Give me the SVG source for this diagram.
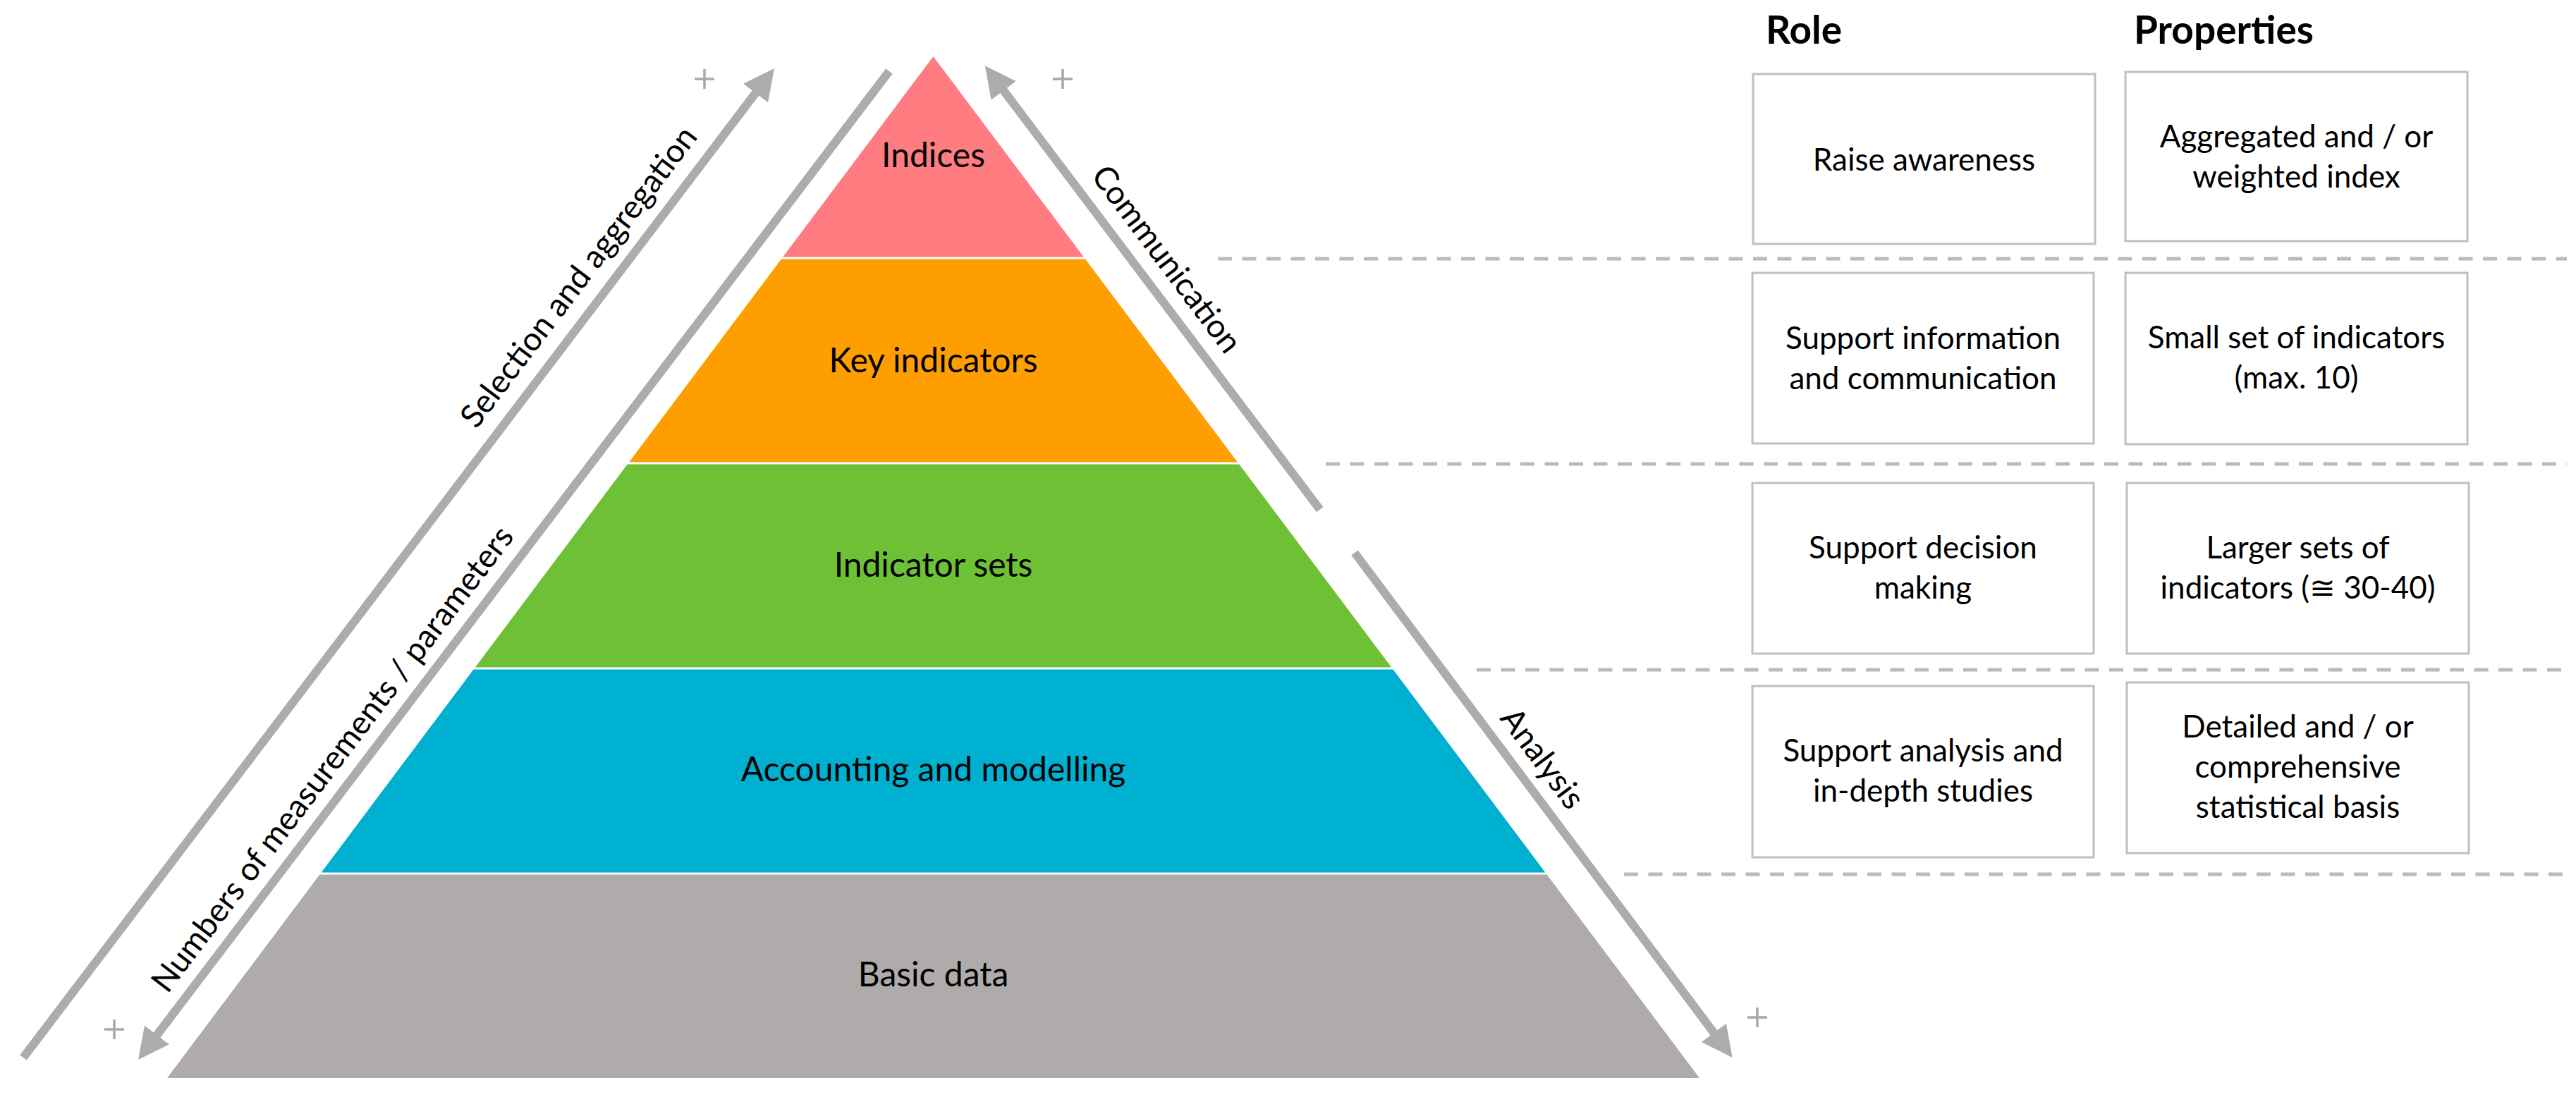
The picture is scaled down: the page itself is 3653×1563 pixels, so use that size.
<svg xmlns="http://www.w3.org/2000/svg" width="3653" height="1563" viewBox="0 0 3653 1563">
  <style>
    .lbl { font-family: Lato, "Liberation Sans", sans-serif; font-size: 48px; fill: #000; text-anchor: middle; }
    .diag { font-family: Lato, "Liberation Sans", sans-serif; font-size: 46px; fill: #000; text-anchor: middle; }
    .box { fill: #fff; stroke: #BFBFBF; stroke-width: 3; }
    .btxt { font-family: Lato, "Liberation Sans", sans-serif; font-size: 44px; fill: #000; text-anchor: middle; }
    .hdr { font-family: Lato, "Liberation Sans", sans-serif; font-size: 55px; font-weight: bold; fill: #000; }
    .arrow { stroke: #AEABAB; stroke-width: 12; fill: none; stroke-linecap: butt; }
    .dash { stroke: #BCB9B9; stroke-width: 5; stroke-dasharray: 20 14.5; fill: none; }
    .plus { stroke: #A9A7A7; stroke-width: 3.5; fill: none; }
  </style>
  <defs>
    <marker id="head" markerUnits="userSpaceOnUse" viewBox="0 0 44 44" markerWidth="44" markerHeight="44" refX="22" refY="22" orient="auto">
      <path d="M0,0 L44,22 L0,44 Z" fill="#AEABAB"/>
    </marker>
  </defs>
  <rect width="3653" height="1563" fill="#fff"/>

  <g id="layer-indices">
    <polygon points="1323.5,80 1536.8,364.5 1110.2,364.5" fill="#FF7C80"/>
    <text class="lbl" x="1323.5" y="237">Indices</text>
  </g>
  <g id="layer-key-indicators">
    <polygon points="1107.9,367.5 1539.1,367.5 1755,655.5 892,655.5" fill="#FF9E00"/>
    <text class="lbl" x="1323.5" y="528">Key indicators</text>
  </g>
  <g id="layer-indicator-sets">
    <polygon points="889.7,658.5 1757.3,658.5 1973.2,946.5 673.8,946.5" fill="#6EC136"/>
    <text class="lbl" x="1323.5" y="818">Indicator sets</text>
  </g>
  <g id="layer-accounting">
    <polygon points="671.5,949.5 1975.5,949.5 2191.4,1237.5 455.6,1237.5" fill="#00B0D0"/>
    <text class="lbl" x="1323.5" y="1108">Accounting and modelling</text>
  </g>
  <g id="layer-basic-data">
    <polygon points="453.3,1240.5 2193.7,1240.5 2410,1529 237,1529" fill="#AFABAB"/>
    <text class="lbl" x="1323.5" y="1399">Basic data</text>
  </g>

  <g id="separators">
    <line class="dash" x1="1727" y1="367" x2="3640" y2="367"/>
    <line class="dash" x1="1880" y1="658" x2="3640" y2="658"/>
    <line class="dash" x1="2094" y1="950" x2="3640" y2="950"/>
    <line class="dash" x1="2303" y1="1240" x2="3640" y2="1240"/>
  </g>

  <g id="connectors">
    <line id="arrow-selection" class="arrow" x1="33" y1="1500" x2="1084.7" y2="114.5" marker-end="url(#head)"/>
    <line id="arrow-numbers" class="arrow" x1="1261" y1="101" x2="209.3" y2="1485.5" marker-end="url(#head)"/>
    <line id="arrow-communication" class="arrow" x1="1871.7" y1="722.7" x2="1410" y2="110.9" marker-end="url(#head)"/>
    <line id="arrow-analysis" class="arrow" x1="1921" y1="784" x2="2443.5" y2="1482.4" marker-end="url(#head)"/>
    <text class="diag" transform="translate(833,402) rotate(-52.8)">Selection and aggregation</text>
    <text class="diag" transform="translate(484,1086) rotate(-52.8)">Numbers of measurements / parameters</text>
    <text class="diag" transform="translate(1642,377) rotate(53)">Communication</text>
    <text class="diag" transform="translate(2175,1085) rotate(53.2)">Analysis</text>
  </g>

  <g id="plus-signs">
    <path class="plus" d="M985,112 h28 M999,98 v28"/>
    <path class="plus" d="M1493,112 h28 M1507,98 v28"/>
    <path class="plus" d="M148,1460 h28 M162,1446 v28"/>
    <path class="plus" d="M2478,1443 h28 M2492,1429 v28"/>
  </g>

  <g id="headers">
    <text class="hdr" x="2504" y="62">Role</text>
    <text class="hdr" x="3026" y="62">Properties</text>
  </g>

  <g id="role-1">
    <rect class="box" x="2486" y="105" width="485" height="241"/>
    <text class="btxt" x="2728.5" y="242">Raise awareness</text>
  </g>
  <g id="prop-1">
    <rect class="box" x="3014" y="102" width="485" height="240"/>
    <text class="btxt" x="3256.5" y="209">Aggregated and / or</text>
    <text class="btxt" x="3256.5" y="266">weighted index</text>
  </g>
  <g id="role-2">
    <rect class="box" x="2485" y="387" width="484" height="242"/>
    <text class="btxt" x="2727" y="495">Support information</text>
    <text class="btxt" x="2727" y="552">and communication</text>
  </g>
  <g id="prop-2">
    <rect class="box" x="3014" y="387" width="485" height="243"/>
    <text class="btxt" x="3256.5" y="494">Small set of indicators</text>
    <text class="btxt" x="3256.5" y="551">(max. 10)</text>
  </g>
  <g id="role-3">
    <rect class="box" x="2485" y="685" width="484" height="242"/>
    <text class="btxt" x="2727" y="792">Support decision</text>
    <text class="btxt" x="2727" y="849">making</text>
  </g>
  <g id="prop-3">
    <rect class="box" x="3016" y="685" width="485" height="242"/>
    <text class="btxt" x="3258.5" y="792">Larger sets of</text>
    <text class="btxt" x="3258.5" y="849">indicators (≅ 30-40)</text>
  </g>
  <g id="role-4">
    <rect class="box" x="2485" y="973" width="484" height="243"/>
    <text class="btxt" x="2727" y="1080">Support analysis and</text>
    <text class="btxt" x="2727" y="1137">in-depth studies</text>
  </g>
  <g id="prop-4">
    <rect class="box" x="3016" y="968" width="485" height="242"/>
    <text class="btxt" x="3258.5" y="1046">Detailed and / or</text>
    <text class="btxt" x="3258.5" y="1103">comprehensive</text>
    <text class="btxt" x="3258.5" y="1160">statistical basis</text>
  </g>
</svg>
